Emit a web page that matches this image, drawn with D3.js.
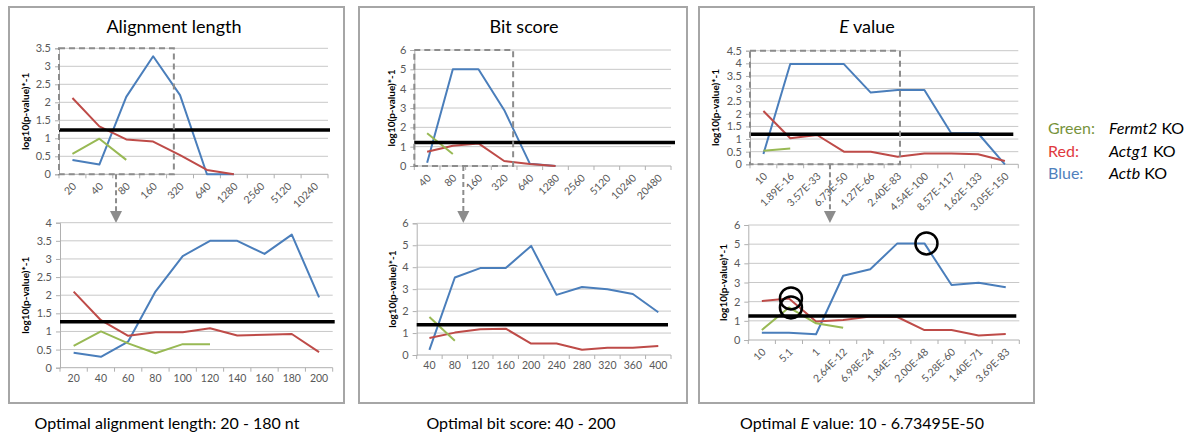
<!DOCTYPE html>
<html><head><meta charset="utf-8">
<script src="https://cdn.jsdelivr.net/npm/d3@7"></script>
<style>
body{margin:0;background:#fff;}
svg text{font-family:Lato,"Open Sans",sans-serif;}
</style></head><body>
<svg id="fig" width="1198" height="437"></svg>
<script>
// ---------- Alignment length ----------
const lenWideCats  = ["20","40","80","160","320","640","1280","2560","5120","10240"];
const lenWideBlue  = [0.40, 0.27, 2.15, 3.28, 2.20, 0.00, 0.00, null, null, null];
const lenWideRed   = [2.12, 1.33, 0.97, 0.91, 0.53, 0.12, 0.00, null, null, null];
const lenWideGreen = [0.57, 0.99, 0.40, null, null, null, null, null, null, null];
const lenFineCats  = ["20","40","60","80","100","120","140","160","180","200"];
const lenFineBlue  = [0.41, 0.30, 0.72, 2.10, 3.08, 3.50, 3.50, 3.14, 3.67, 1.94];
const lenFineRed   = [2.10, 1.31, 0.88, 0.98, 0.98, 1.09, 0.89, 0.91, 0.93, 0.43];
const lenFineGreen = [0.60, 1.00, 0.67, 0.40, 0.65, 0.65, null, null, null, null];

// ---------- Bit score ----------
const bitWideCats  = ["40","80","160","320","640","1280","2560","5120","10240","20480"];
const bitWideBlue  = [0.17, 5.00, 5.00, 2.90, 0.12, 0.00, null, null, null, null];
const bitWideRed   = [0.74, 1.05, 1.17, 0.26, 0.10, 0.00, null, null, null, null];
const bitWideGreen = [1.69, 0.62, null, null, null, null, null, null, null, null];
const bitFineCats  = ["40","80","120","160","200","240","280","320","360","400"];
const bitFineBlue  = [0.23, 3.53, 3.96, 3.96, 4.97, 2.74, 3.10, 3.00, 2.78, 1.95];
const bitFineRed   = [0.77, 1.02, 1.17, 1.20, 0.52, 0.52, 0.24, 0.33, 0.33, 0.41];
const bitFineGreen = [1.73, 0.65, null, null, null, null, null, null, null, null];

// ---------- E value ----------
const evWideCats  = ["10","1.89E-16","3.57E-33","6.73E-50","1.27E-66","2.40E-83","4.54E-100","8.57E-117","1.62E-133","3.05E-150"];
const evWideBlue  = [0.41, 3.97, 3.97, 3.97, 2.84, 2.94, 2.94, 1.23, 1.23, 0.00];
const evWideRed   = [2.11, 1.03, 1.16, 0.50, 0.50, 0.30, 0.43, 0.43, 0.40, 0.13];
const evWideGreen = [0.54, 0.63, null, null, null, null, null, null, null, null];
const evFineCats  = ["10","5.1","1","2.64E-12","6.98E-24","1.84E-35","2.00E-48","5.28E-60","1.40E-71","3.69E-83"];
const evFineBlue  = [0.38, 0.38, 0.30, 3.35, 3.69, 5.04, 5.04, 2.87, 2.99, 2.75];
const evFineRed   = [2.03, 2.17, 0.96, 1.04, 1.22, 1.20, 0.52, 0.52, 0.24, 0.31];
const evFineGreen = [0.52, 1.70, 0.87, 0.64, null, null, null, null, null, null];

// significance cut-off line drawn in each chart (-log10 p)
const cutoffs = [1.23, 1.27, 1.22, 1.38, 1.19, 1.25];

// panel titles, captions, legend
const panelTitles = ["Alignment length", "Bit score", "value"];
const captions = ["Optimal alignment length: 20 - 180 nt", "Optimal bit score: 40 - 200", " value: 10 - 6.73495E-50"];
const legendKeys = ["Green:", "Red:", "Blue:"];
const legendGenes = ["Fermt2", "Actg1", "Actb"];

const COL = {blue: "#4A7EBB", red: "#BE4B48", green: "#98B954"};
const svg = d3.select("#fig");

// panel frames
const frames = [[9, 7, 335, 396], [359, 7, 328, 396], [699, 7, 335, 396]];
svg.selectAll("rect.frame").data(frames).join("rect")
  .attr("class", "frame")
  .attr("x", d => d[0]).attr("y", d => d[1]).attr("width", d => d[2]).attr("height", d => d[3])
  .attr("fill", "none").attr("stroke", "#a6a6a6").attr("stroke-width", 2);

function drawChart(o) {
  const g = svg.append("g");
  const x = d3.scaleBand().domain(o.cats).range([o.x0, o.x1]);
  const bw = x.bandwidth();
  const xi = d3.scaleLinear().domain([0, o.cats.length]).range([o.x0, o.x1]);
  const y = d3.scaleLinear().domain([0, o.yMax]).range([o.y1, o.y0]);
  const ticks = d3.range(0, o.yMax + 1e-9, o.yStep);

  // horizontal gridlines
  g.append("g").selectAll("line").data(ticks).join("line")
    .attr("x1", o.x0).attr("x2", o.x1)
    .attr("y1", d => y(d)).attr("y2", d => y(d))
    .attr("stroke", d => d === 0 ? "#b0b0b0" : "#c8c8c8").attr("stroke-width", 1);

  // value axis
  const ya = g.append("g").attr("transform", `translate(${o.x0},0)`)
    .call(d3.axisLeft(y).tickValues(ticks).tickSize(4).tickPadding(4).tickFormat(d3.format("~g")));
  ya.select(".domain").attr("stroke", "#b0b0b0");
  ya.selectAll(".tick line").attr("stroke", "#b0b0b0");
  ya.selectAll("text").attr("fill", "#595959").style("font-size", "11px");

  // category axis: labels centred in bands, ticks at band edges
  const xa = g.append("g").attr("transform", `translate(0,${o.y1})`)
    .call(d3.axisBottom(x).tickSize(0).tickPadding(7));
  xa.select(".domain").remove();
  const xt = xa.selectAll("text").attr("fill", "#595959").style("font-size", "10.5px");
  if (o.rotate) {
    xt.attr("text-anchor", "end").attr("y", 0).attr("dy", "0.35em")
      .attr("transform", "translate(2,10) rotate(-45)");
  }
  g.append("g").selectAll("line").data(d3.range(o.cats.length + 1)).join("line")
    .attr("x1", d => xi(d)).attr("x2", d => xi(d))
    .attr("y1", o.y1).attr("y2", o.y1 + 4)
    .attr("stroke", "#b0b0b0");

  // axis title
  g.append("text")
    .attr("transform", `translate(${o.x0 - o.titleOff},${(o.y0 + o.y1) / 2}) rotate(-90)`)
    .attr("text-anchor", "middle").attr("dy", "0.35em")
    .style("font-size", "10px").style("font-weight", "bold").attr("fill", "#000")
    .text("log10(p-value)*-1");

  // series
  const line = d3.line().defined(d => d != null)
    .x((d, i) => x(o.cats[i]) + bw / 2).y(d => y(d));
  [["blue", o.blue], ["red", o.red], ["green", o.green]].forEach(([c, vals]) => {
    g.append("path").datum(vals).attr("d", line)
      .attr("fill", "none").attr("stroke", COL[c]).attr("stroke-width", 2)
      .attr("stroke-linejoin", "round");
  });

  // cut-off line
  g.append("line")
    .attr("x1", o.x0).attr("x2", o.x1 + (o.cutExt || 0))
    .attr("y1", y(o.cutoff)).attr("y2", y(o.cutoff))
    .attr("stroke", "#000").attr("stroke-width", 3.5);

  return {g, x, xi, y, bw};
}

function zoomBox(c, idxEnd, arrowIdx, tipY) {
  const {g, xi, y} = c;
  const yTop = y.range()[1], yBot = y.range()[0];
  const dash = "6,4";
  g.append("rect")
    .attr("x", xi(0)).attr("y", yTop)
    .attr("width", xi(idxEnd) - xi(0)).attr("height", yBot - yTop)
    .attr("fill", "none").attr("stroke", "#8c8c8c").attr("stroke-width", 2)
    .attr("stroke-dasharray", dash);
  const ax = xi(arrowIdx);
  g.append("line").attr("x1", ax).attr("x2", ax).attr("y1", yBot).attr("y2", tipY - 10)
    .attr("stroke", "#8c8c8c").attr("stroke-width", 2).attr("stroke-dasharray", "5,3");
  g.append("path")
    .attr("d", `M${ax - 6},${tipY - 12}L${ax + 6},${tipY - 12}L${ax},${tipY}Z`)
    .attr("fill", "#8c8c8c");
}

// ---- Alignment length ----
const c1 = drawChart({cats: lenWideCats, blue: lenWideBlue, red: lenWideRed, green: lenWideGreen,
  yMax: 3.5, yStep: 0.5, x0: 59, x1: 328, y0: 48.3, y1: 174.3, rotate: true,
  cutoff: cutoffs[0], cutExt: 2, titleOff: 34});
const c2 = drawChart({cats: lenFineCats, blue: lenFineBlue, red: lenFineRed, green: lenFineGreen,
  yMax: 4, yStep: 0.5, x0: 60, x1: 332.7, y0: 222.7, y1: 367.7, rotate: false,
  cutoff: cutoffs[1], cutExt: 2, titleOff: 35});
zoomBox(c1, 4.27, 2.12, 223);

// ---- Bit score ----
const c3 = drawChart({cats: bitWideCats, blue: bitWideBlue, red: bitWideRed, green: bitWideGreen,
  yMax: 6, yStep: 1, x0: 414.3, x1: 671, y0: 50, y1: 166, rotate: true,
  cutoff: cutoffs[2], cutExt: 4, titleOff: 23});
const c4 = drawChart({cats: bitFineCats, blue: bitFineBlue, red: bitFineRed, green: bitFineGreen,
  yMax: 6, yStep: 1, x0: 416.7, x1: 671, y0: 223.3, y1: 355, rotate: false,
  cutoff: cutoffs[3], cutExt: -3, titleOff: 24});
zoomBox(c3, 3.85, 1.91, 223);

// ---- E value ----
const c5 = drawChart({cats: evWideCats, blue: evWideBlue, red: evWideRed, green: evWideGreen,
  yMax: 4.5, yStep: 0.5, x0: 750, x1: 1018.3, y0: 50.7, y1: 164.3, rotate: true,
  cutoff: cutoffs[4], cutExt: -5, titleOff: 35});
const c6 = drawChart({cats: evFineCats, blue: evFineBlue, red: evFineRed, green: evFineGreen,
  yMax: 6, yStep: 1, x0: 748.3, x1: 1019.3, y0: 225, y1: 340, rotate: true,
  cutoff: cutoffs[5], cutExt: -3, titleOff: 25});
zoomBox(c5, 5.59, 2.98, 223);

// rings marking the optimum points in the fine E-value chart
const rings = [[evFineCats[1], evFineRed[1]], [evFineCats[1], evFineGreen[1]], [evFineCats[6], evFineBlue[6]]];
c6.g.selectAll("circle.ring").data(rings).join("circle")
  .attr("class", "ring")
  .attr("cx", d => c6.x(d[0]) + c6.bw / 2 + 2).attr("cy", d => c6.y(d[1]))
  .attr("r", 11).attr("fill", "none").attr("stroke", "#000").attr("stroke-width", 2.5);

// panel titles
const titleX = [174, 524, 867];
titleX.forEach((tx, i) => {
  const t = svg.append("text").attr("x", tx).attr("y", 33).attr("text-anchor", "middle")
    .style("font-size", "18px").attr("fill", "#000");
  if (i === 2) {
    t.append("tspan").style("font-style", "italic").text("E");
    t.append("tspan").text(" " + panelTitles[i]);
  } else {
    t.text(panelTitles[i]);
  }
});

// captions under the panels
const capX = [167, 521, 862];
capX.forEach((cx, i) => {
  const t = svg.append("text").attr("x", cx).attr("y", 429).attr("text-anchor", "middle")
    .style("font-size", "16px").attr("fill", "#000");
  if (i === 2) {
    t.append("tspan").text("Optimal ");
    t.append("tspan").style("font-style", "italic").text("E");
    t.append("tspan").text(captions[i]);
  } else {
    t.text(captions[i]);
  }
});

// legend
const legCol = ["#77933C", "#E0393E", "#4F81BD"];
legendKeys.forEach((k, i) => {
  const yy = 134 + i * 22.5;
  svg.append("text").attr("x", 1048).attr("y", yy).style("font-size", "16px")
    .attr("fill", legCol[i]).text(k);
  const t = svg.append("text").attr("x", 1109).attr("y", yy).style("font-size", "16px").attr("fill", "#000");
  t.append("tspan").style("font-style", "italic").text(legendGenes[i]);
  t.append("tspan").text(" KO");
});
</script>
</body></html>
